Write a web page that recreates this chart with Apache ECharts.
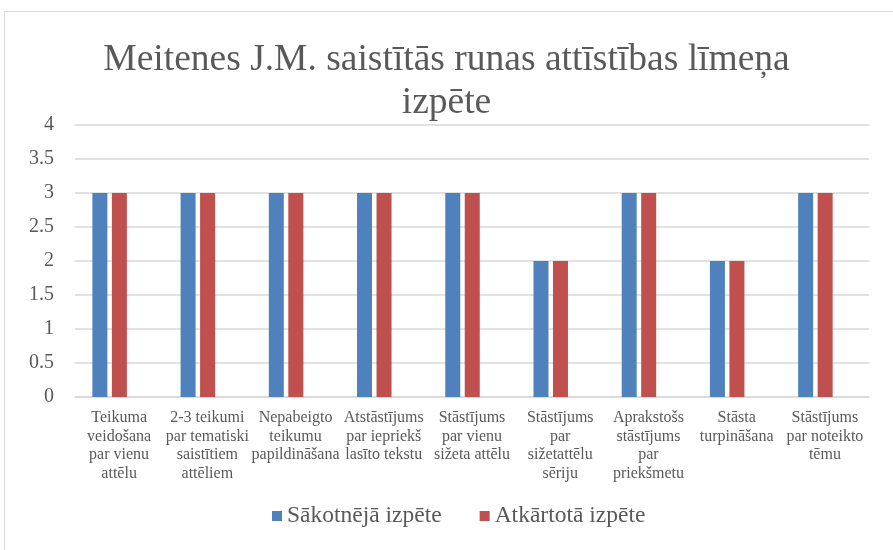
<!DOCTYPE html>
<html>
<head>
<meta charset="utf-8">
<script src="https://cdn.jsdelivr.net/npm/echarts@6/dist/echarts.min.js"></script>
<style>
	html, body { margin: 0; padding: 0; background: #fff; }
	#main { width: 893px; height: 550px; }
</style>
</head>
<body>
<div id="main"></div>
<script>
// datu masīvi
const categories = [
	"Teikuma\nveidošana\npar vienu\nattēlu",
	"2-3 teikumi\npar tematiski\nsaistītiem\nattēliem",
	"Nepabeigto\nteikumu\npapildināšana",
	"Atstāstījums\npar iepriekš\nlasīto tekstu",
	"Stāstījums\npar vienu\nsižeta attēlu",
	"Stāstījums\npar\nsižetattēlu\nsēriju",
	"Aprakstošs\nstāstījums\npar\npriekšmetu",
	"Stāsta\nturpināšana",
	"Stāstījums\npar noteikto\ntēmu"
];
const sakotneja = [3, 3, 3, 3, 3, 2, 3, 2, 3];
const atkartota = [3, 3, 3, 3, 3, 2, 3, 2, 3];
const seriesNames = ["Sākotnējā izpēte", "Atkārtotā izpēte"];

const font = "Liberation Serif";
const textColor = "#595959";

let myChart = echarts.init(document.getElementById("main"));
let option = {
	animation: false,
	textStyle: { fontFamily: font },
	title: {
		text: "Meitenes J.M. saistītās runas attīstības līmeņa\nizpēte",
		left: "center",
		top: 34,
		textStyle: { fontFamily: font, fontSize: 37.5, fontWeight: "normal", color: textColor, lineHeight: 43 }
	},
	legend: {
		data: seriesNames,
		bottom: 17,
		left: 267,
		itemWidth: 10,
		itemHeight: 10,
		itemGap: 38,
		icon: "rect",
		textStyle: { fontFamily: font, fontSize: 23.5, color: textColor }
	},
	graphic: [
		{
			type: "rect",
			silent: true,
			shape: { x: 4.5, y: 11.5, width: 1000, height: 1000 },
			style: { fill: "none", stroke: "#d9d9d9", lineWidth: 1 }
		}
	],
	grid: [
		{ left: 75, right: 24, top: 125, bottom: 153 },
		// stabiņi ir nedaudz nobīdīti pa kreisi kā oriģinālā
		{ left: 65.5, right: 33.5, top: 125, bottom: 153 }
	],
	xAxis: [
		{
			type: "category",
			gridIndex: 0,
			data: categories,
			axisLine: { lineStyle: { color: "#d9d9d9", width: 1.5 } },
			axisTick: { show: false },
			axisLabel: { interval: 0, margin: 12, fontFamily: font, fontSize: 16, lineHeight: 18.5, color: textColor, align: "center" }
		},
		{
			type: "category",
			gridIndex: 1,
			data: categories,
			show: false
		}
	],
	yAxis: [
		{
			type: "value",
			gridIndex: 0,
			min: 0,
			max: 4,
			interval: 0.5,
			axisLine: { show: false },
			axisTick: { show: false },
			splitLine: { lineStyle: { color: "#d9d9d9", width: 1.5 } },
			axisLabel: { margin: 21, fontFamily: font, fontSize: 20, color: textColor }
		},
		{
			type: "value",
			gridIndex: 1,
			min: 0,
			max: 4,
			interval: 0.5,
			show: false
		}
	],
	series: [
		{
			name: seriesNames[0],
			type: "bar",
			xAxisIndex: 1,
			yAxisIndex: 1,
			data: sakotneja,
			barWidth: 15,
			barGap: "30%",
			itemStyle: { color: "#4F81BD" }
		},
		{
			name: seriesNames[1],
			type: "bar",
			xAxisIndex: 1,
			yAxisIndex: 1,
			data: atkartota,
			barWidth: 15,
			barGap: "30%",
			itemStyle: { color: "#C0504D" }
		}
	]
};
myChart.setOption(option);
</script>
</body>
</html>
